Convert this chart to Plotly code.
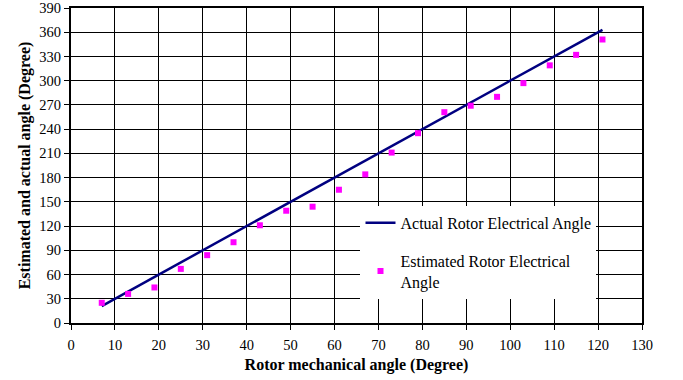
import plotly.graph_objects as go

# Rotor mechanical angle (degrees)
mech_angle = [7, 13, 19, 25, 31, 37, 43, 49, 55, 61, 67, 73, 79, 85, 91, 97, 103, 109, 115, 121]
# Actual rotor electrical angle (degrees)
actual_angle = [21, 39, 57, 75, 93, 111, 129, 147, 165, 183, 201, 219, 237, 255, 273, 291, 309, 327, 345, 363]
# Estimated rotor electrical angle (degrees)
estimated_angle = [25, 36, 44, 67, 84, 100, 121, 139, 144, 165, 184, 211, 235, 261, 269, 280, 297, 319, 332, 351]

x_ticks = list(range(0, 131, 10))
y_ticks = list(range(0, 391, 30))

serif = "Liberation Serif"

fig = go.Figure()
fig.add_trace(go.Scatter(
    x=mech_angle, y=actual_angle, mode="lines",
    name="Actual Rotor Electrical Angle",
    line=dict(color="#000080", width=2.5),
    legendgroup="a",
))
fig.add_trace(go.Scatter(
    x=mech_angle, y=estimated_angle, mode="markers",
    name="Estimated Rotor Electrical<br>Angle",
    marker=dict(color="#FF00FF", symbol="square", size=6),
    legendgroup="b",
))

axis_common = dict(
    showline=True, linecolor="black", linewidth=2, mirror=True,
    showgrid=True, gridcolor="black", gridwidth=1,
    ticks="outside", ticklen=5, tickcolor="black", tickwidth=1,
    zeroline=False,
    tickfont=dict(family=serif, size=14.5, color="black"),
)

fig.update_xaxes(
    range=[0, 130], tickvals=x_ticks, ticklabelstandoff=3,
    title=dict(text="<b>Rotor mechanical angle (Degree)</b>",
               font=dict(family=serif, size=16, color="black"), standoff=6),
    **axis_common,
)
fig.update_yaxes(
    range=[0, 390], tickvals=y_ticks,
    title=dict(text="<b>Estimated and actual angle (Degree)</b>",
               font=dict(family=serif, size=16, color="black"), standoff=5),
    **axis_common,
)

fig.update_layout(
    width=683, height=380,
    margin=dict(l=71, r=41, t=8, b=57, autoexpand=False),
    plot_bgcolor="white", paper_bgcolor="white",
    font=dict(family=serif, color="black"),
    legend=dict(
        x=0.507, y=0.372, xanchor="left", yanchor="top",
        bgcolor="white", borderwidth=0,
        font=dict(family=serif, size=16, color="black"),
        traceorder="grouped", tracegroupgap=14,
        itemwidth=30,
    ),
)

fig.write_html("out.html")
